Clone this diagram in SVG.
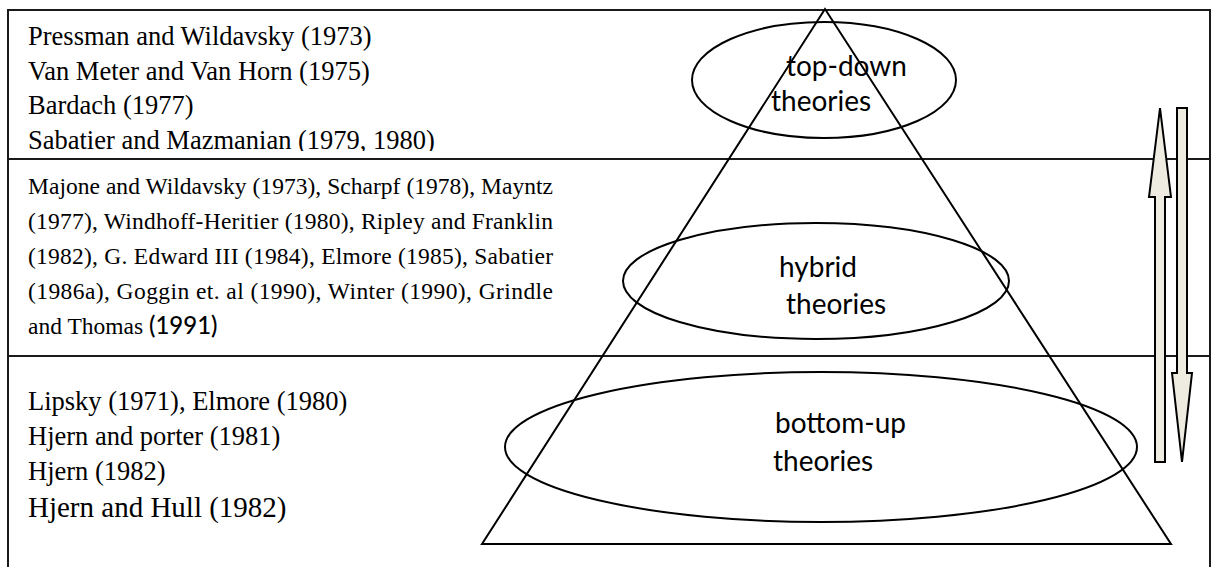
<svg xmlns="http://www.w3.org/2000/svg" width="1212" height="567" viewBox="0 0 1212 567">
  <style>
    .frame { fill: #ffffff; stroke: #1a1a1a; stroke-width: 2; }
    .rule { stroke: #1a1a1a; stroke-width: 2; fill: none; }
    .shape { fill: none; stroke: #000000; stroke-width: 2; }
    .ref { font-family: "Liberation Serif", "Times New Roman", serif; fill: #000000; }
    .label { font-family: Lato, "Open Sans", "Noto Sans", sans-serif; fill: #000000; font-size: 28px; }
    .arrow { fill: #eeece1; stroke: #000000; stroke-width: 2; stroke-linejoin: miter; }
  </style>
  <defs>
    <clipPath id="topBand">
      <rect x="0" y="0" width="1212" height="151"/>
    </clipPath>
  </defs>

  <!-- outer frame and band dividers -->
  <rect class="frame" x="8" y="10" width="1202" height="580"/>
  <line class="rule" x1="8" y1="159" x2="1210" y2="159"/>
  <line class="rule" x1="8" y1="356" x2="1210" y2="356"/>

  <!-- pyramid -->
  <g id="pyramid">
    <polygon class="shape" points="825,9 482,544 1171,544"/>
  </g>

  <!-- theory groups -->
  <g id="top-down">
    <ellipse class="shape" cx="824" cy="80" rx="132" ry="58"/>
    <text class="label" x="786" y="76">top-down</text>
    <text class="label" x="771" y="111">theories</text>
  </g>
  <g id="hybrid">
    <ellipse class="shape" cx="816" cy="281" rx="193" ry="58"/>
    <text class="label" x="779" y="277">hybrid</text>
    <text class="label" x="786" y="314">theories</text>
  </g>
  <g id="bottom-up">
    <ellipse class="shape" cx="821" cy="447" rx="316" ry="75"/>
    <text class="label" x="775" y="433">bottom-up</text>
    <text class="label" x="773" y="471">theories</text>
  </g>

  <!-- reference lists -->
  <g id="top-down-refs" class="ref" font-size="26.5" clip-path="url(#topBand)">
    <text x="28" y="45">Pressman and Wildavsky (1973)</text>
    <text x="28" y="80">Van Meter and Van Horn (1975)</text>
    <text x="28" y="114">Bardach (1977)</text>
    <text x="28" y="149">Sabatier and Mazmanian (1979, 1980)</text>
  </g>
  <g id="hybrid-refs" class="ref" font-size="23.5">
    <text x="28" y="194" textLength="525">Majone and Wildavsky (1973), Scharpf (1978), Mayntz</text>
    <text x="28" y="229" textLength="525">(1977), Windhoff-Heritier (1980), Ripley and Franklin</text>
    <text x="28" y="264" textLength="525">(1982), G. Edward III (1984), Elmore (1985), Sabatier</text>
    <text x="28" y="299" textLength="525">(1986a), Goggin et. al (1990), Winter (1990), Grindle</text>
    <text x="28" y="334">and Thomas <tspan font-family="Lato, 'Open Sans', sans-serif" font-size="24" font-weight="500">(1991)</tspan></text>
  </g>
  <g id="bottom-up-refs" class="ref" font-size="26.5">
    <text x="28" y="410">Lipsky (1971), Elmore (1980)</text>
    <text x="28" y="445">Hjern and porter (1981)</text>
    <text x="28" y="480">Hjern (1982)</text>
    <text x="28" y="517" font-size="29">Hjern and Hull (1982)</text>
  </g>

  <!-- direction arrows -->
  <g id="connectors">
    <polygon class="arrow" points="1160,108 1171,197 1165,197 1165,462 1155,462 1155,197 1149,197"/>
    <polygon class="arrow" points="1177,108 1187,108 1187,373 1192,373 1182,462 1172,373 1177,373"/>
  </g>
</svg>
